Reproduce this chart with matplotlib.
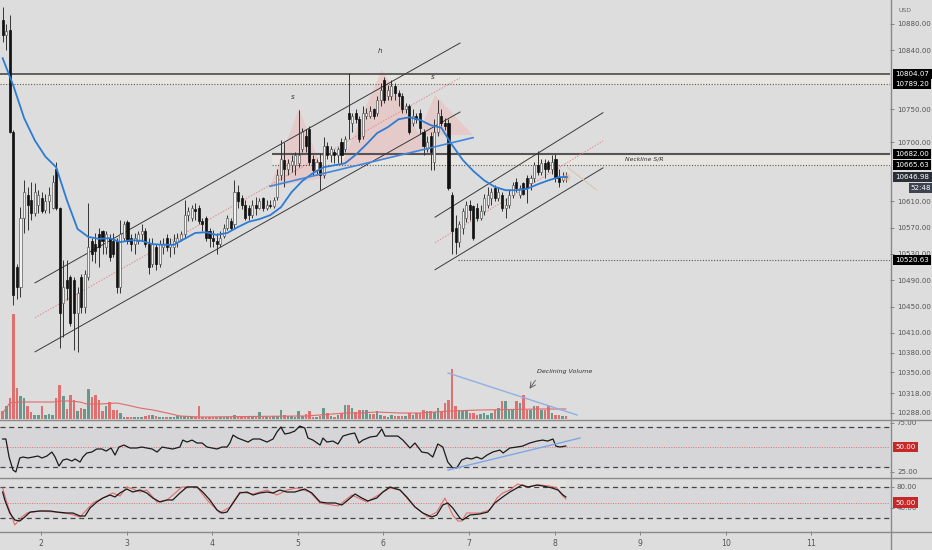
import numpy as np
import matplotlib
matplotlib.use('Agg')
import matplotlib.pyplot as plt
from matplotlib import font_manager
from matplotlib.lines import Line2D
from matplotlib.patches import Rectangle, Polygon

# hourly BTC/USD bars, x in day-of-month
first_bar_day = 1.552
opens = [10886, 10863, 10871, 10716, 10510, 10480, 10585, 10620, 10612, 10592,
         10605, 10615, 10597, 10610, 10600, 10660, 10600, 10455, 10490, 10495,
         10490, 10440, 10495, 10450, 10495, 10550, 10545, 10560, 10565, 10540,
         10555, 10550, 10550, 10480, 10555, 10578, 10555, 10545, 10550, 10560,
         10565, 10545, 10515, 10540, 10515, 10540, 10555, 10540, 10540, 10548,
         10553, 10560, 10590, 10585, 10598, 10600, 10580, 10585, 10565, 10555,
         10550, 10545, 10557, 10570, 10580, 10575, 10625, 10615, 10605, 10600,
         10590, 10605, 10600, 10615, 10600, 10605, 10603, 10617, 10650, 10673,
         10660, 10665, 10665, 10668, 10690, 10710, 10720, 10675, 10658, 10670,
         10650, 10695, 10680, 10685, 10680, 10700, 10690, 10745, 10730, 10745,
         10735, 10710, 10740, 10740, 10750, 10745, 10765, 10795, 10770, 10770,
         10785, 10775, 10770, 10750, 10755, 10730, 10740, 10745, 10715, 10690,
         10710, 10670, 10715, 10740, 10730, 10730, 10620, 10570, 10548, 10570,
         10585, 10605, 10603, 10600, 10585, 10595, 10605, 10615, 10630, 10615,
         10620, 10600, 10605, 10620, 10640, 10620, 10638, 10645, 10638, 10645,
         10665, 10655, 10668, 10670, 10660, 10675, 10645, 10643, 10648]
highs = [10906, 10880, 10894, 10719, 10515, 10602, 10643, 10632, 10640, 10638,
         10628, 10625, 10622, 10632, 10650, 10670, 10602, 10521, 10521, 10498,
         10495, 10480, 10500, 10505, 10607, 10555, 10562, 10570, 10567, 10565,
         10560, 10562, 10555, 10582, 10580, 10582, 10560, 10562, 10565, 10575,
         10570, 10555, 10555, 10545, 10551, 10555, 10560, 10555, 10560, 10562,
         10565, 10612, 10602, 10605, 10608, 10605, 10585, 10588, 10570, 10566,
         10562, 10565, 10575, 10590, 10585, 10643, 10635, 10620, 10612, 10605,
         10612, 10617, 10615, 10617, 10612, 10612, 10617, 10660, 10703, 10700,
         10675, 10680, 10685, 10749, 10722, 10720, 10725, 10680, 10675, 10684,
         10708, 10700, 10695, 10690, 10693, 10707, 10710, 10805, 10745, 10750,
         10740, 10755, 10752, 10755, 10752, 10770, 10790, 10800, 10787, 10795,
         10790, 10780, 10775, 10760, 10758, 10750, 10745, 10750, 10720, 10710,
         10715, 10735, 10764, 10750, 10737, 10735, 10625, 10590, 10580, 10600,
         10610, 10612, 10605, 10608, 10605, 10622, 10632, 10630, 10635, 10632,
         10625, 10615, 10627, 10640, 10645, 10635, 10640, 10650, 10650, 10670,
         10686, 10675, 10675, 10673, 10680, 10682, 10660, 10655, 10655]
lows = [10853, 10840, 10714, 10452, 10462, 10465, 10562, 10567, 10582, 10587,
        10592, 10592, 10592, 10592, 10598, 10597, 10387, 10404, 10460, 10420,
        10384, 10381, 10440, 10440, 10490, 10520, 10516, 10510, 10530, 10530,
        10520, 10525, 10470, 10470, 10550, 10545, 10535, 10530, 10545, 10550,
        10540, 10500, 10510, 10505, 10510, 10530, 10535, 10525, 10530, 10540,
        10550, 10555, 10580, 10580, 10582, 10575, 10565, 10550, 10540, 10540,
        10530, 10540, 10555, 10566, 10566, 10570, 10600, 10598, 10582, 10582,
        10585, 10590, 10598, 10595, 10597, 10600, 10600, 10612, 10643, 10632,
        10650, 10655, 10650, 10662, 10685, 10685, 10665, 10650, 10650, 10627,
        10645, 10675, 10670, 10668, 10668, 10668, 10685, 10705, 10715, 10730,
        10700, 10705, 10735, 10737, 10735, 10740, 10755, 10760, 10765, 10764,
        10764, 10755, 10745, 10745, 10712, 10725, 10730, 10712, 10680, 10685,
        10658, 10658, 10710, 10725, 10718, 10627, 10530, 10530, 10540, 10560,
        10578, 10582, 10551, 10580, 10582, 10590, 10600, 10605, 10610, 10610,
        10595, 10585, 10600, 10615, 10625, 10615, 10620, 10608, 10627, 10640,
        10650, 10650, 10645, 10655, 10652, 10640, 10632, 10640, 10640]
closes = [10863, 10870, 10716, 10467, 10480, 10585, 10625, 10605, 10592, 10625,
          10620, 10595, 10610, 10620, 10640, 10600, 10440, 10480, 10478, 10425,
          10440, 10470, 10450, 10500, 10540, 10530, 10535, 10540, 10550, 10560,
          10525, 10530, 10480, 10560, 10575, 10550, 10545, 10555, 10560, 10565,
          10545, 10510, 10545, 10515, 10545, 10545, 10540, 10545, 10550, 10555,
          10560, 10590, 10595, 10600, 10595, 10580, 10575, 10555, 10555, 10550,
          10545, 10555, 10570, 10585, 10570, 10625, 10610, 10605, 10585, 10590,
          10605, 10600, 10610, 10600, 10605, 10603, 10612, 10650, 10675, 10660,
          10668, 10672, 10680, 10680, 10715, 10695, 10670, 10658, 10670, 10650,
          10695, 10680, 10690, 10680, 10690, 10680, 10705, 10735, 10740, 10735,
          10705, 10745, 10745, 10748, 10740, 10765, 10780, 10765, 10780, 10785,
          10775, 10770, 10750, 10755, 10715, 10740, 10735, 10722, 10695, 10700,
          10685, 10715, 10745, 10730, 10725, 10630, 10565, 10548, 10575, 10595,
          10605, 10597, 10555, 10585, 10595, 10615, 10620, 10625, 10615, 10625,
          10600, 10605, 10620, 10635, 10630, 10630, 10622, 10630, 10645, 10665,
          10655, 10668, 10660, 10660, 10670, 10645, 10640, 10648, 10646.98]
volumes = [80, 130, 210, 1050, 310, 230, 210, 130, 70, 40,
           40, 130, 40, 50, 40, 210, 340, 230, 100, 240,
           190, 80, 110, 100, 300, 220, 240, 190, 80, 130,
           170, 90, 90, 60, 20, 20, 20, 20, 20, 20,
           30, 40, 40, 30, 20, 20, 20, 20, 20, 30,
           30, 30, 20, 20, 20, 130, 20, 20, 20, 20,
           20, 20, 20, 20, 20, 40, 30, 20, 20, 20,
           20, 20, 70, 20, 20, 20, 30, 30, 90, 40,
           30, 30, 20, 80, 30, 50, 80, 20, 20, 30,
           110, 60, 30, 20, 40, 60, 140, 140, 110, 70,
           90, 90, 90, 50, 50, 80, 40, 30, 20, 40,
           30, 30, 30, 30, 60, 40, 60, 60, 90, 80,
           80, 70, 110, 70, 160, 190, 500, 130, 90, 80,
           80, 60, 60, 40, 50, 60, 40, 60, 90, 110,
           180, 180, 90, 90, 180, 160, 240, 90, 90, 130,
           130, 90, 90, 130, 60, 40, 40, 30, 30]

# EMA every 3 bars (0..156) plus the last bar
ema_vals = [10828, 10786, 10737, 10703, 10678, 10662, 10612, 10568, 10556, 10553,
            10554, 10548, 10551, 10550, 10545, 10544, 10544, 10553, 10562, 10563,
            10559, 10562, 10571, 10579, 10583, 10589, 10601, 10624, 10641, 10653,
            10662, 10665, 10668, 10681, 10697, 10714, 10723, 10735, 10738, 10734,
            10726, 10722, 10696, 10673, 10656, 10642, 10632, 10627, 10627, 10629,
            10636, 10642, 10647, 10647]
ema_hours = list(range(0, 157, 3)) + [158]

vma_hours = [0, 2.0, 4.9, 14.1, 16.1, 18.9, 21.7, 23.6, 27.3, 32.0, 34.8, 38.5, 42.1, 46.1,
             49.7, 55.3, 83.3, 85.3, 96.0, 100.2, 104.9, 111.4, 117.0, 125.4, 133.8, 150.6, 157.9]
vma_vals = [60, 160, 170, 170, 180, 180, 170, 150, 150, 160, 140, 110, 90, 60,
            30, 20, 30, 30, 60, 60, 70, 60, 60, 80, 90, 100, 100]

rsi_hours = [0, 0.9, 1.8, 2.9, 3.7, 4.8, 5.7, 7.1, 8.5, 9.9, 11.0, 12.4, 13.8, 14.7, 15.8,
             16.9, 18.0, 19.4, 20.3, 21.7, 22.5, 23.6, 25.0, 26.4, 27.8, 29.0, 30.4, 31.5,
             32.6, 34.0, 35.7, 37.6, 39.0, 40.4, 41.9, 43.3, 44.7, 46.1, 47.7, 49.7, 50.5,
             51.7, 53.1, 54.5, 55.9, 57.3, 58.7, 60.1, 61.5, 62.9, 63.7, 64.6, 65.9, 67.4,
             68.8, 70.2, 72.1, 74.1, 75.8, 76.9, 78.0, 79.1, 80.5, 81.9, 83.3, 84.7, 85.6,
             87.0, 89.0, 89.8, 90.9, 92.6, 94.0, 95.4, 97.3, 98.7, 99.9, 101.0, 103.0, 104.9,
             106.3, 107.2, 109.1, 110.8, 112.2, 114.2, 115.6, 117.5, 119.2, 120.6, 122.0,
             123.4, 124.8, 126.2, 127.3, 128.7, 130.1, 131.5, 132.9, 134.3, 135.8, 137.4,
             139.4, 140.3, 142.2, 144.2, 145.8, 147.8, 149.8, 151.4, 152.8, 154.3, 155.1,
             156.2, 157.9]
rsi_vals = [58.2, 58.2, 39.8, 26.5, 24.5, 38.8, 39.8, 38.8, 39.8, 40.8, 38.8, 40.8, 44.9, 39.8,
            30.6, 36.7, 37.8, 35.7, 37.8, 34.7, 39.8, 43.9, 44.9, 48.0, 48.0, 45.9, 49.0, 41.8,
            50.0, 52.0, 49.0, 49.0, 50.0, 49.0, 48.0, 44.9, 50.0, 49.0, 48.0, 50.0, 57.1, 55.1,
            57.1, 54.1, 54.1, 50.0, 49.0, 48.0, 50.0, 50.0, 54.1, 62.2, 59.2, 57.1, 55.1, 58.2,
            58.2, 55.1, 58.2, 65.3, 70.4, 63.3, 64.3, 66.3, 71.4, 69.4, 59.2, 57.1, 52.0, 59.2,
            55.1, 56.1, 53.1, 61.2, 63.3, 64.3, 54.1, 57.1, 60.2, 61.2, 68.4, 61.2, 61.2, 61.2,
            57.1, 49.0, 54.1, 44.9, 43.9, 39.8, 53.1, 50.0, 34.7, 28.6, 28.6, 36.7, 38.8, 37.8,
            39.8, 37.8, 41.8, 44.9, 46.9, 43.9, 49.0, 50.0, 51.0, 54.1, 56.1, 57.1, 56.1, 58.2,
            51.0, 50.0, 51.0]

stk_hours = [0, 0.6, 2.0, 3.4, 4.8, 6.2, 7.7, 10.5, 13.3, 15.2, 18.0, 19.7, 21.7, 23.1, 24.5,
             26.4, 28.1, 30.1, 31.5, 32.9, 34.8, 36.5, 38.5, 40.4, 42.1, 44.1, 46.1, 47.7, 49.7,
             51.7, 54.5, 56.1, 58.1, 60.1, 61.5, 62.9, 64.6, 66.5, 68.5, 70.2, 72.1, 74.1, 75.8,
             77.7, 79.7, 81.9, 84.7, 86.7, 89.0, 90.9, 93.2, 95.1, 96.5, 98.8, 100.7, 102.4,
             104.9, 106.6, 108.6, 111.4, 113.3, 115.6, 117.8, 120.3, 121.7, 123.4, 124.8, 126.2,
             128.2, 129.0, 131.0, 133.8, 136.0, 138.0, 140.2, 142.2, 144.2, 145.6, 147.3, 149.8,
             151.5, 154.0, 155.7, 157.1, 157.9]
stk_vals = [70.3, 54.9, 29.7, 16.2, 14.2, 22.0, 31.6, 33.6, 33.6, 31.6, 29.7, 29.7, 23.9, 23.9,
            39.4, 51.0, 58.7, 64.5, 60.7, 68.4, 76.1, 70.3, 74.2, 68.4, 58.7, 51.0, 54.9, 54.9,
            68.4, 80.0, 80.0, 70.3, 54.9, 35.5, 29.7, 31.6, 49.1, 68.4, 70.3, 64.5, 68.4, 70.3,
            68.4, 74.2, 70.3, 70.3, 76.1, 68.4, 51.0, 49.1, 49.1, 45.2, 52.9, 66.5, 58.7, 52.9,
            58.7, 70.3, 80.0, 74.2, 60.7, 41.3, 29.7, 22.0, 25.8, 45.2, 49.1, 39.4, 20.0, 16.2,
            25.8, 27.8, 31.6, 49.1, 60.7, 70.3, 78.1, 83.9, 80.0, 83.9, 81.9, 78.1, 74.2, 64.5,
            60.7]
std_hours = [0, 1.2, 3.4, 5.4, 6.8, 10.5, 14.7, 18.9, 21.7, 25.3, 28.1, 30.9, 32.9, 34.8, 36.5,
             38.5, 40.4, 43.3, 46.1, 50.3, 54.5, 57.3, 60.9, 63.7, 66.5, 70.2, 74.1, 76.9, 79.7,
             82.5, 86.1, 89.0, 94.0, 97.9, 102.1, 108.6, 111.4, 115.0, 119.2, 121.7, 124.0,
             126.2, 127.6, 128.7, 130.1, 133.8, 136.6, 138.6, 140.2, 142.2, 144.4, 146.9, 150.6,
             153.4, 155.4, 156.8, 157.9]
std_vals = [78.1, 49.1, 6.5, 22.0, 29.7, 33.6, 31.6, 27.8, 22.0, 49.1, 58.7, 68.4, 62.6, 80.0,
            76.1, 70.3, 74.2, 51.0, 54.9, 80.0, 80.0, 54.9, 29.7, 41.3, 70.3, 66.5, 74.2, 64.5,
            74.2, 78.1, 70.3, 49.1, 43.3, 64.5, 51.0, 78.1, 74.2, 45.2, 22.0, 31.6, 58.7, 25.8,
            14.2, 14.2, 29.7, 29.7, 35.5, 58.7, 68.4, 74.2, 85.8, 80.0, 83.9, 81.9, 78.1, 64.5,
            56.8]

# drawings (day, price)
channel1 = {'upper': ([1.930, 6.895], [10486, 10851]),
            'lower': ([1.930, 6.895], [10381, 10746]),
            'mid':   ([1.930, 6.895], [10433, 10798])}
channel2 = {'upper': ([6.603, 8.565], [10586, 10745]),
            'lower': ([6.603, 8.565], [10506, 10661]),
            'mid':   ([6.603, 8.565], [10547, 10702])}
neckline = ([4.675, 7.047], [10633, 10707])
shoulder_l = [(4.675, 10632), (5.014, 10752), (5.318, 10646)]
head = [(5.493, 10661), (5.983, 10811), (6.521, 10688)]
shoulder_r = [(6.404, 10711), (6.603, 10772), (7.047, 10711)]
hs_labels = [('s', 4.944, 10769), ('h', 5.960, 10839), ('s', 6.579, 10799)]
top_zone = (10804.07, 10789.20)
neck_zone = (10682.00, 10665.63)
neck_zone_start = 4.699
low_level = 10520.63
low_level_start = 6.871
last_price = 10646.98
countdown = '52:48'
price_ticks = [10880, 10840, 10750, 10700, 10610, 10570, 10530, 10490, 10450,
               10410, 10380, 10350, 10318, 10288]
day_ticks = [2, 3, 4, 5, 6, 7, 8, 9, 10, 11]
vol_trend = ([6.755, 8.262], [460, 40])
rsi_trend = ([6.755, 8.297], [26.5, 59.2])

bg = '#dddddd'
installed = {f.name for f in font_manager.fontManager.ttflist}
narrow = 'Liberation Sans Narrow' if 'Liberation Sans Narrow' in installed else 'DejaVu Sans'
scale = 1.0 if narrow != 'DejaVu Sans' else 0.74
plt.rcParams['font.family'] = [narrow, 'DejaVu Sans']

W, H = 932, 550
fig = plt.figure(figsize=(W / 100, H / 100), dpi=100, facecolor=bg)


def pane(top, bottom):
    return [0, 1 - bottom / H, 890 / W, (bottom - top) / H]


ax = fig.add_axes(pane(0, 419))
ax_vol = ax.twinx()
ax_rsi = fig.add_axes(pane(420, 477), sharex=ax)
ax_st = fig.add_axes(pane(478, 531), sharex=ax)
ax.set_zorder(2)
ax_vol.set_zorder(1)
ax.patch.set_visible(False)
for a in (ax, ax_vol, ax_rsi, ax_st):
    a.set_facecolor(bg)
    for s in a.spines.values():
        s.set_visible(False)
ax_vol.patch.set_visible(False)

xmin, xmax = 1.521, 11.918
ax.set_xlim(xmin, xmax)
ax.set_ylim(10278.8, 10916.5)
ax_vol.set_ylim(0, 4190)
ax_vol.set_yticks([])
ax_rsi.set_ylim(19.4, 77.6)
ax_st.set_ylim(-5.1, 97.4)

t = first_bar_day + np.arange(len(closes)) / 24.0
o = np.array(opens, float)
c = np.array(closes, float)
up = c >= o

# volume
ax_vol.bar(t, volumes, width=0.72 / 24, color=np.where(up, '#68988b', '#df7070'), zorder=2)
ax_vol.plot(first_bar_day + np.array(vma_hours) / 24, vma_vals, color='#e06a6a', lw=0.8, zorder=3)
ax_vol.plot(*vol_trend, color='#8fb0e4', lw=1.0, zorder=4)
ax_vol.text(8.121, 470, 'Declining Volume', style='italic', fontsize=6.2 * scale,
            color='#333333', ha='center', va='center')
ax_vol.annotate('', xy=(7.689, 280), xytext=(7.794, 410),
                arrowprops=dict(arrowstyle='->', color='#555555', lw=0.6))

# levels
ax.axhline(top_zone[0], color='#555555', lw=1.3, zorder=1)
ax.axhline(top_zone[1], color='#555555', lw=0.8, ls=(0, (1, 1.5)), zorder=1)
ax.axhspan(top_zone[1], top_zone[0], color='#e7e5e0', zorder=0.5)
ax.hlines(neck_zone[0], neck_zone_start, xmax, color='#555555', lw=1.5, zorder=1)
ax.hlines(neck_zone[1], neck_zone_start, xmax, color='#555555', lw=0.8,
          linestyles=[(0, (1, 1.5))], zorder=1)
ax.fill_between([neck_zone_start, xmax], neck_zone[1], neck_zone[0], color='#e7e5e0', zorder=0.5)
ax.hlines(low_level, low_level_start, xmax, color='#555555', lw=0.8,
          linestyles=[(0, (1, 1.5))], zorder=1)
ax.text(9.044, 10674, 'Neckline S/R', style='italic', fontsize=6.0 * scale,
        color='#333333', ha='center', va='center', zorder=3)

# head and shoulders
for tri in (shoulder_l, head, shoulder_r):
    ax.add_patch(Polygon(tri, closed=True, fc='#f0b4b4', ec='none', alpha=0.45, zorder=0.8))
for lab, x, y in hs_labels:
    ax.text(x, y, lab, style='italic', fontsize=7 * scale, color='#333333',
            ha='center', va='center')

# channels
for ch in (channel1, channel2):
    ax.plot(*ch['upper'], color='#3a3a3a', lw=0.7, zorder=1.5)
    ax.plot(*ch['lower'], color='#3a3a3a', lw=0.7, zorder=1.5)
    ax.plot(*ch['mid'], color='#e38a8a', lw=0.7, ls=(0, (1.5, 1.5)), zorder=1.5)

# candles
ax.vlines(t, lows, highs, color='#333333', lw=0.7, zorder=2)
ax.bar(t, c - o, bottom=o, width=0.58 / 24,
       color=np.where(up, '#f2f2f2', '#111111'),
       edgecolor=np.where(up, '#5c5c5c', '#111111'), linewidth=0.5, zorder=2.2)
ax.scatter([t[-1]], [c[-1]], s=30, color='#eab48a', alpha=0.55, zorder=2.4, lw=0)
ax.plot([8.15, 8.495], [10662, 10627], color='#d8c3ad', lw=0.7, zorder=1.5)

ax.plot(first_bar_day + np.array(ema_hours) / 24, ema_vals, color='#2c7bd4', lw=1.3, zorder=2.6)
ax.plot(*neckline, color='#3f87dc', lw=1.2, zorder=2.7)

# right price scale
ax.yaxis.tick_right()
ax.set_yticks(price_ticks)
ax.set_yticklabels(['%.2f' % v for v in price_ticks])
ax.tick_params(axis='y', direction='out', length=3, width=0.6, color='#777777',
               labelcolor='#555555', labelsize=7.0 * scale, pad=2)
ax.tick_params(axis='x', bottom=False, labelbottom=False)
ytr = ax.get_yaxis_transform()
for val, fc in [(top_zone[0], 'black'), (top_zone[1], 'black'), (neck_zone[0], 'black'),
                (neck_zone[1], 'black'), (last_price, '#2b3038'), (low_level, 'black')]:
    ax.annotate('%.2f' % val, xy=(1, val), xycoords=ytr, xytext=(4, 0), textcoords='offset points',
                ha='left', va='center', color='white', fontsize=7.0 * scale, annotation_clip=False,
                bbox=dict(boxstyle='square,pad=0.3', fc=fc, ec='none'), zorder=5)
ax.annotate(countdown, xy=(1, 10630), xycoords=ytr, xytext=(15, 0), textcoords='offset points',
            ha='left', va='center', color='white', fontsize=7.0 * scale, annotation_clip=False,
            bbox=dict(boxstyle='square,pad=0.3', fc='#3d4350', ec='none'), zorder=5)
fig.text(905 / W, 1 - 10 / H, 'USD', color='#666666', fontsize=6 * scale, ha='center', va='center')

# RSI
rsi_x = first_bar_day + np.array(rsi_hours) / 24
ax_rsi.axhspan(30, 70, color='#d6d6d9', zorder=0)
ax_rsi.axhline(70, color='#444444', lw=0.9, ls=(0, (4, 3)))
ax_rsi.axhline(30, color='#444444', lw=0.9, ls=(0, (4, 3)))
ax_rsi.axhline(50, color='#e07070', lw=0.7, ls=(0, (1, 1.5)))
ax_rsi.plot(rsi_x, rsi_vals, color='#1a1a1a', lw=0.9)
ax_rsi.plot(*rsi_trend, color='#7ea6e6', lw=1.0)

# stochastic
ax_st.axhspan(20, 80, color='#d8d8da', zorder=0)
ax_st.add_patch(Rectangle((7.339, 76), 0.794, 22, fc='#e6e4e0', ec='none', alpha=0.8, zorder=0.5))
ax_st.axhline(80, color='#444444', lw=0.9, ls=(0, (4, 3)))
ax_st.axhline(20, color='#444444', lw=0.9, ls=(0, (4, 3)))
ax_st.axhline(50, color='#e07070', lw=0.7, ls=(0, (1, 1.5)))
ax_st.plot(first_bar_day + np.array(std_hours) / 24, std_vals, color='#e46c6c', lw=0.8)
ax_st.plot(first_bar_day + np.array(stk_hours) / 24, stk_vals, color='#1a1a1a', lw=0.9)

for a, ticks in ((ax_rsi, [75, 25]), (ax_st, [80, 40])):
    a.yaxis.tick_right()
    a.set_yticks(ticks)
    a.set_yticklabels(['%.2f' % v for v in ticks])
    a.tick_params(axis='y', direction='out', length=3, width=0.6, color='#777777',
                  labelcolor='#555555', labelsize=7.0 * scale, pad=2)
    a.annotate('50.00', xy=(1, 50), xycoords=a.get_yaxis_transform(), xytext=(4, 0),
               textcoords='offset points', ha='left', va='center', color='white',
               fontsize=7.0 * scale, annotation_clip=False,
               bbox=dict(boxstyle='square,pad=0.3', fc='#c62828', ec='none'), zorder=5)
ax_rsi.tick_params(axis='x', bottom=False, labelbottom=False)
ax_st.set_xticks(day_ticks)
ax_st.set_xticklabels([str(d) for d in day_ticks])
ax_st.tick_params(axis='x', direction='out', length=3, width=0.6, color='#777777',
                  labelcolor='#555555', labelsize=7.5 * scale, pad=3)

# pane separators
for yy in (419.5, 477.5, 531.5):
    fig.add_artist(Line2D([0, 1], [1 - yy / H] * 2, transform=fig.transFigure,
                          color='#8a8a8a', lw=1.0))
fig.add_artist(Line2D([890.5 / W] * 2, [0, 1], transform=fig.transFigure, color='#8a8a8a', lw=1.0))

fig.savefig('out.png', dpi=100, facecolor=bg)
